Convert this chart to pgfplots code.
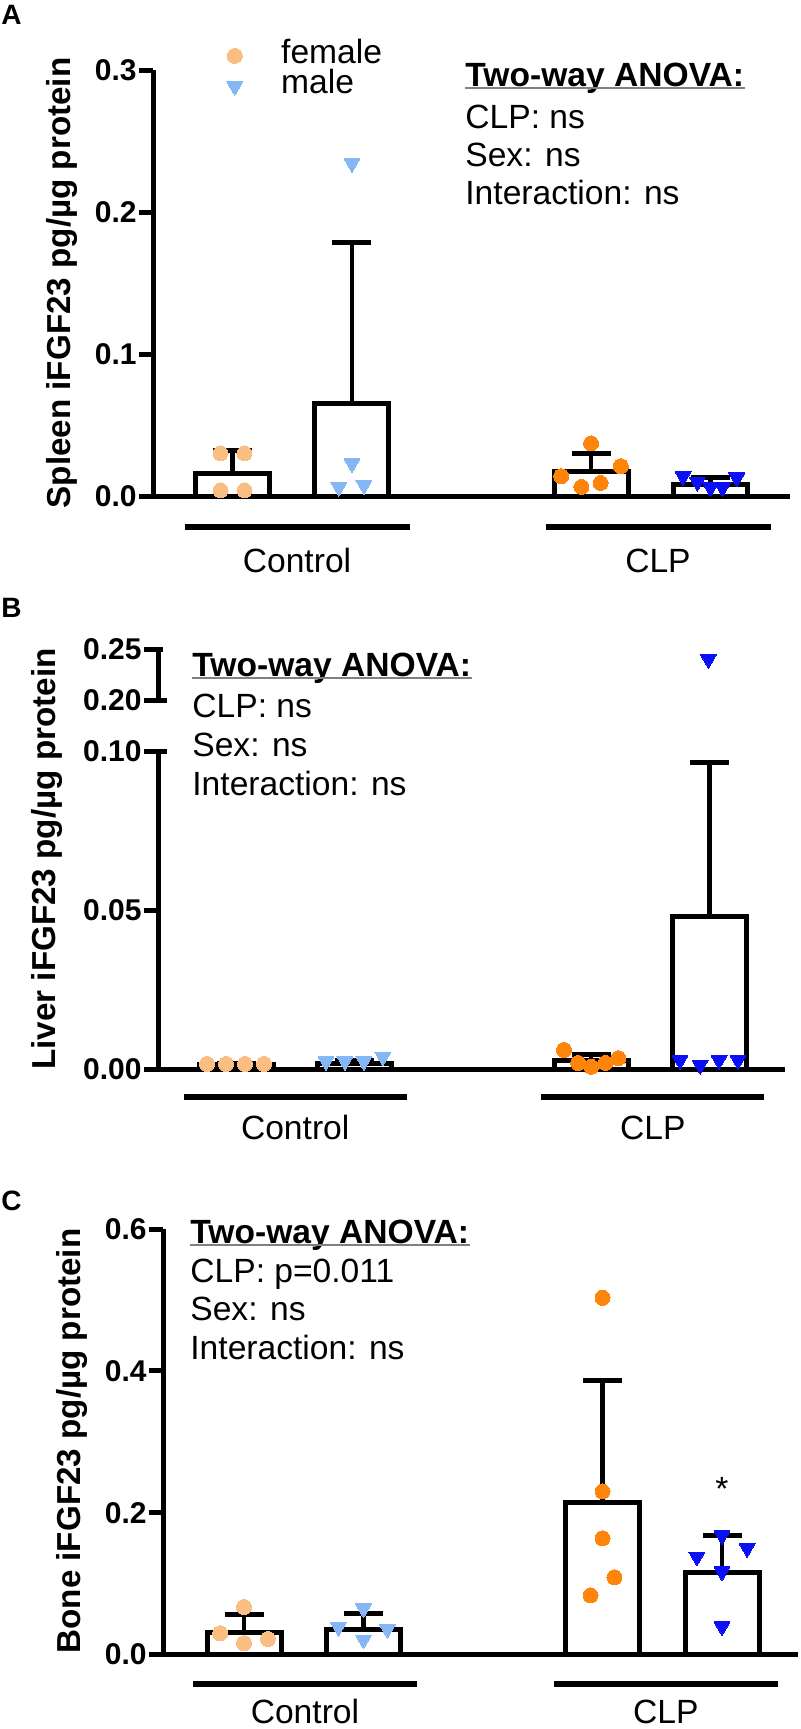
\documentclass[border=0pt]{standalone}
\usepackage{pgfplots}
\pgfplotsset{compat=1.18}
\usepackage{fontspec}
\setmainfont{Liberation Sans}
\definecolor{lorange}{RGB}{251,190,130}
\definecolor{lblue}{RGB}{133,183,247}
\definecolor{dorange}{RGB}{255,133,10}
\definecolor{dblue}{RGB}{10,15,245}
\newcommand{\txt}{\fontsize{16.8}{19}\selectfont}
\newcommand{\lab}{\fontsize{16.6}{19}\selectfont\bfseries}
\newcommand{\tck}{\fontsize{15}{16}\selectfont\bfseries}
\pgfplotsset{
  prism/.style={
    scale only axis, clip=false,
    axis x line*=bottom, axis y line*=left,
    axis line style={line width=2.5pt, black},
    xtick=\empty,
    major tick length=7pt, tick align=outside,
    ytick style={line width=2.5pt, black},
    yticklabel style={font=\tck, inner xsep=1pt},
  },
  barstyle/.style={ybar, bar width=37pt, fill=white, draw=black, line width=2.5pt, forget plot,
    error bars/y dir=plus, error bars/y explicit,
    error bars/error bar style={line width=2.2pt, black},
    error bars/error mark options={line width=2.5pt, mark size=9.75pt, black, rotate=90}},
  fem/.style={only marks, mark=*, mark size=3.75pt, color=#1, mark options={draw=#1, fill=#1, line width=0pt}},
  mal/.style={only marks, mark=triangle*, mark size=4.6pt, color=#1, mark options={rotate=180, draw=#1, fill=#1, line width=0pt}},
}
\begin{document}
\begin{tikzpicture}
\useasboundingbox (0pt,0pt) rectangle (400pt,-864.5pt);

% ---------------- Panel A ----------------
\node[anchor=base west, inner sep=0pt, font=\fontsize{14}{14}\selectfont\bfseries] at (0.5pt,-12.5pt) {A};
\node[rotate=90, anchor=base, inner sep=0pt, font=\lab] at (35pt,-141.5pt) {Spleen iFGF23 pg/µg protein};
\begin{axis}[prism, at={(76.5pt,-248pt)}, anchor=south west, width=318.5pt, height=213pt,
  xmin=-0.665, xmax=4.665, ymin=0, ymax=0.3,
  ytick={0,0.1,0.2,0.3}, yticklabels={0.0,0.1,0.2,0.3},
  legend style={at={(0.102,1.068)}, anchor=north west, draw=none, fill=none, inner sep=0pt,
    font=\txt, row sep=0.6pt, nodes={inner ysep=0pt, inner xsep=0pt, text height=11pt, text depth=3.5pt}},
  legend cell align=left,
  legend image code/.code={\path (0pt,0pt) (31pt,0pt); \draw[mark repeat=2,mark phase=2,#1] plot coordinates {(0pt,0pt) (8pt,0pt) (16pt,0pt)};}]
\addplot[barstyle] coordinates {(0,0.016) +- (0,0.016) (1,0.065) +- (0,0.1135) (3,0.017) +- (0,0.013) (4,0.008) +- (0,0.0047)};
\addplot[fem=lorange] coordinates {(-0.1,0.030) (0.1,0.030) (-0.1,0.004) (0.1,0.004)};
\addlegendentry{female}
\addplot[mal=lblue] coordinates {(1,0.2345) (1,0.023) (0.89,0.0064) (1.1,0.0078)};
\addlegendentry{male}
\addplot[fem=dorange, forget plot] coordinates {(3,0.037) (2.75,0.014) (2.92,0.0064) (3.08,0.0092) (3.25,0.021)};
\addplot[mal=dblue, forget plot] coordinates {(3.77,0.014) (3.89,0.010) (4.0,0.006) (4.1,0.006) (4.22,0.013)};
\draw[line width=3.2pt] ([yshift=-15.5pt]axis cs:-0.40,0) -- ([yshift=-15.5pt]axis cs:1.485,0);
\draw[line width=3.2pt] ([yshift=-15.5pt]axis cs:2.62,0) -- ([yshift=-15.5pt]axis cs:4.505,0);
\node[anchor=base, font=\txt, inner sep=0pt] at ([yshift=-38pt]axis cs:0.54,0) {Control};
\node[anchor=base, font=\txt, inner sep=0pt] at ([yshift=-38pt]axis cs:3.56,0) {CLP};
\end{axis}
\node[anchor=base west, inner sep=0pt, font=\txt\bfseries] (tA) at (232.5pt,-43pt) {Two-way ANOVA:};
\draw[gray, line width=0.7pt] ([yshift=-1pt]tA.base west) -- ([yshift=-1pt]tA.base east);
\node[anchor=base west, inner sep=0pt, font=\txt] at (232.5pt,-64pt) {CLP: ns};
\node[anchor=base west, inner sep=0pt, font=\txt] at (232.5pt,-83.25pt) {Sex: ns};
\node[anchor=base west, inner sep=0pt, font=\txt] at (232.5pt,-102pt) {Interaction: ns};

% ---------------- Panel B ----------------
\node[anchor=base west, inner sep=0pt, font=\fontsize{14}{14}\selectfont\bfseries] at (0.5pt,-308.5pt) {B};
\node[rotate=90, anchor=base, inner sep=0pt, font=\lab] at (27.5pt,-429.5pt) {Liver iFGF23 pg/µg protein};
\begin{axis}[prism, axis x line=none, at={(79pt,-350pt)}, anchor=south west, width=313.5pt, height=25.5pt,
  xmin=-0.659, xmax=4.637, ymin=0.2, ymax=0.25,
  ytick={0.2,0.25}, yticklabels={0.20,0.25}]
\addplot[mal=dblue] coordinates {(3.99,0.240)};
\draw[line width=2.5pt] (rel axis cs:0,0) -- ++(4.5pt,0pt);
\draw[line width=2.5pt] (rel axis cs:0,1) -- ++(2.5pt,0pt);
\end{axis}
\begin{axis}[prism, at={(79pt,-534.5pt)}, anchor=south west, width=313.5pt, height=159pt,
  xmin=-0.659, xmax=4.637, ymin=0, ymax=0.1,
  ytick={0,0.05,0.1}, yticklabels={0.00,0.05,0.10}]
\addplot[barstyle] coordinates {(0,0.0015) +- (0,0.0003) (1,0.0017) +- (0,0.001) (3,0.0027) +- (0,0.002) (4,0.048) +- (0,0.0485)};
\addplot[fem=lorange] coordinates {(-0.245,0.0016) (-0.085,0.0016) (0.076,0.0016) (0.236,0.0016)};
\addplot[mal=lblue] coordinates {(0.76,0.0025) (0.92,0.0025) (1.08,0.0025) (1.24,0.0039)};
\addplot[fem=dorange] coordinates {(2.77,0.006) (2.89,0.0019) (3.0,0.0007) (3.12,0.0019) (3.23,0.0034)};
\addplot[mal=dblue] coordinates {(3.75,0.0028) (3.92,0.0013) (4.08,0.0028) (4.24,0.0028)};
\draw[line width=2.5pt] (rel axis cs:0,1) -- ++(4.5pt,0pt);
\draw[line width=3.2pt] ([yshift=-14pt]axis cs:-0.44,0) -- ([yshift=-14pt]axis cs:1.44,0);
\draw[line width=3.2pt] ([yshift=-14pt]axis cs:2.58,0) -- ([yshift=-14pt]axis cs:4.46,0);
\node[anchor=base, font=\txt, inner sep=0pt] at ([yshift=-35pt]axis cs:0.50,0) {Control};
\node[anchor=base, font=\txt, inner sep=0pt] at ([yshift=-35pt]axis cs:3.52,0) {CLP};
\end{axis}
\node[anchor=base west, inner sep=0pt, font=\txt\bfseries] (tB) at (96pt,-338pt) {Two-way ANOVA:};
\draw[gray, line width=0.7pt] ([yshift=-1pt]tB.base west) -- ([yshift=-1pt]tB.base east);
\node[anchor=base west, inner sep=0pt, font=\txt] at (96pt,-358.5pt) {CLP: ns};
\node[anchor=base west, inner sep=0pt, font=\txt] at (96pt,-378pt) {Sex: ns};
\node[anchor=base west, inner sep=0pt, font=\txt] at (96pt,-397.5pt) {Interaction: ns};

% ---------------- Panel C ----------------
\node[anchor=base west, inner sep=0pt, font=\fontsize{14}{14}\selectfont\bfseries] at (0.5pt,-605pt) {C};
\node[rotate=90, anchor=base, inner sep=0pt, font=\lab] at (40pt,-720.5pt) {Bone iFGF23 pg/µg protein};
\begin{axis}[prism, at={(81.5pt,-827.25pt)}, anchor=south west, width=317.5pt, height=212.75pt,
  xmin=-0.678, xmax=4.636, ymin=0, ymax=0.6,
  ytick={0,0.2,0.4,0.6}, yticklabels={0.0,0.2,0.4,0.6}]
\addplot[barstyle] coordinates {(0,0.031) +- (0,0.026) (1,0.035) +- (0,0.0235) (3,0.215) +- (0,0.172) (4,0.116) +- (0,0.052)};
\addplot[fem=lorange] coordinates {(0,0.067) (-0.2,0.030) (0,0.016) (0.2,0.022)};
\addplot[mal=lblue] coordinates {(0.79,0.039) (1,0.065) (1,0.021) (1.2,0.036)};
\addplot[fem=dorange] coordinates {(3,0.503) (3,0.230) (3,0.164) (3.1,0.109) (2.9,0.0835)};
\addplot[mal=dblue] coordinates {(4,0.168) (3.79,0.138) (4.21,0.150) (4,0.117) (4,0.0395)};
\node[anchor=base, font=\txt, inner sep=0pt] at (axis cs:4,0.2166) {*};
\draw[line width=3.2pt] ([yshift=-14.75pt]axis cs:-0.43,0) -- ([yshift=-14.75pt]axis cs:1.45,0);
\draw[line width=3.2pt] ([yshift=-14.75pt]axis cs:2.59,0) -- ([yshift=-14.75pt]axis cs:4.47,0);
\node[anchor=base, font=\txt, inner sep=0pt] at ([yshift=-34.5pt]axis cs:0.51,0) {Control};
\node[anchor=base, font=\txt, inner sep=0pt] at ([yshift=-34.5pt]axis cs:3.53,0) {CLP};
\end{axis}
\node[anchor=base west, inner sep=0pt, font=\txt\bfseries] (tC) at (95pt,-621.5pt) {Two-way ANOVA:};
\draw[gray, line width=0.7pt] ([yshift=-1pt]tC.base west) -- ([yshift=-1pt]tC.base east);
\node[anchor=base west, inner sep=0pt, font=\txt] at (95pt,-641pt) {CLP: p=0.011};
\node[anchor=base west, inner sep=0pt, font=\txt] at (95pt,-660pt) {Sex: ns};
\node[anchor=base west, inner sep=0pt, font=\txt] at (95pt,-679.5pt) {Interaction: ns};
\end{tikzpicture}
\end{document}
